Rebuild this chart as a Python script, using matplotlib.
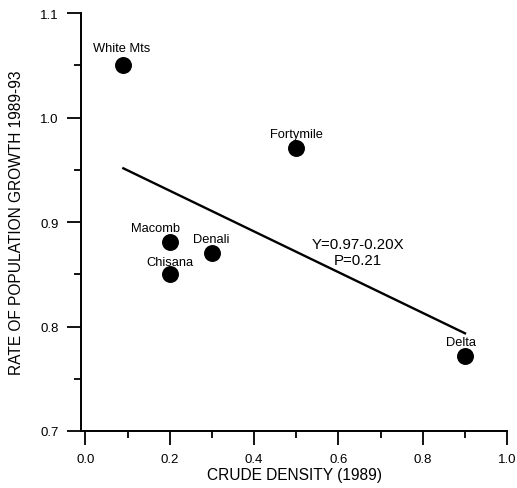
import numpy as np
import matplotlib.pyplot as plt
from matplotlib.ticker import MultipleLocator

# data
herds = ["White Mts", "Fortymile", "Macomb", "Denali", "Chisana", "Delta"]
density = [0.09, 0.50, 0.20, 0.30, 0.20, 0.90]
growth = [1.050, 0.971, 0.881, 0.870, 0.850, 0.772]
# label offsets in pixels (dx, dy) relative to each point
label_offsets = [(-2, 17), (0, 14), (-14, 14), (-1, 14), (0, 12), (-4, 14)]

fit_intercept = 0.969
fit_slope = -0.195
fit_x = [0.09, 0.90]

plt.rcParams["font.family"] = ["Liberation Sans", "DejaVu Sans"]

fig = plt.figure(figsize=(5.17, 4.89), dpi=100)
ax = fig.add_axes([0.157, 0.1166, 0.824, 0.8545])

ax.scatter(density, growth, s=125, color="black", zorder=3)

xs = np.array(fit_x)
ax.plot(xs, fit_intercept + fit_slope * xs, color="black", linewidth=1.7)

for name, x, y, (dx, dy) in zip(herds, density, growth, label_offsets):
    ax.annotate(name, (x, y), xytext=(dx, dy), textcoords="offset pixels",
                ha="center", va="center", fontsize=9.3)

ax.text(0.647, 0.879, "Y=0.97-0.20X", ha="center", va="center", fontsize=10.8)
ax.text(0.647, 0.864, "P=0.21", ha="center", va="center", fontsize=10.8)

ax.set_xlim(-0.01, 1.0)
ax.set_ylim(0.7, 1.1)
ax.xaxis.set_major_locator(MultipleLocator(0.2))
ax.xaxis.set_minor_locator(MultipleLocator(0.1))
ax.yaxis.set_major_locator(MultipleLocator(0.1))
ax.yaxis.set_minor_locator(MultipleLocator(0.05))
ax.xaxis.set_major_formatter(plt.FormatStrFormatter("%.1f"))
ax.yaxis.set_major_formatter(plt.FormatStrFormatter("%.1f"))

ax.spines["top"].set_visible(False)
ax.spines["right"].set_visible(False)
for s in ["left", "bottom"]:
    ax.spines[s].set_linewidth(1.4)

ax.tick_params(which="major", length=10, width=1.3, labelsize=9.5, pad=6)
ax.tick_params(which="minor", length=5, width=1.3)

ax.set_xlabel("CRUDE DENSITY (1989)", fontsize=11.2, labelpad=1)
ax.set_ylabel("RATE OF POPULATION GROWTH 1989-93", fontsize=11.2, labelpad=12)

fig.savefig("out.png", dpi=100)
